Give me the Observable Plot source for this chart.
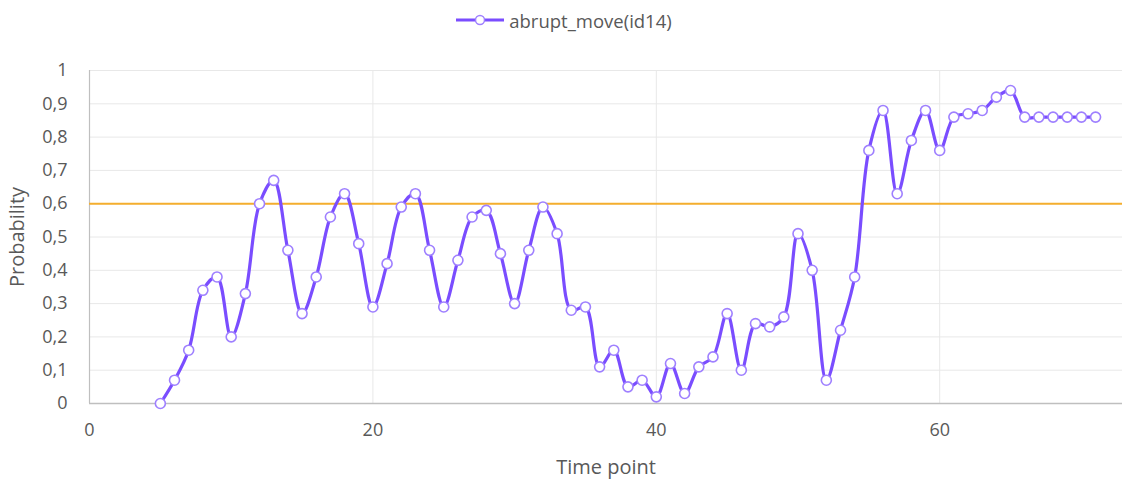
<!DOCTYPE html>
<html>
<head>
<meta charset="utf-8">
<script src="https://cdn.jsdelivr.net/npm/d3@7"></script>
<script src="https://cdn.jsdelivr.net/npm/@observablehq/plot@0.6"></script>
<style>
  body { margin: 0; background: #fff; font-family: "Open Sans", Lato, sans-serif; }
  #legend { height: 40px; display: flex; justify-content: center; align-items: center; color: #595959; font-size: 18.5px; padding-left: 6px; }
  #legend svg { margin-right: 5px; }
</style>
</head>
<body>
<div id="legend"></div>
<div id="chart"></div>
<script>
// Time points and the probability of the abrupt_move(id14) series
const timePoints = [5,6,7,8,9,10,11,12,13,14,15,16,17,18,19,20,21,22,23,24,25,26,27,28,29,30,31,32,33,34,35,36,37,38,39,40,41,42,43,44,45,46,47,48,49,50,51,52,53,54,55,56,57,58,59,60,61,62,63,64,65,66,67,68,69,70,71];
const probability = [0,0.07,0.16,0.34,0.38,0.20,0.33,0.60,0.67,0.46,0.27,0.38,0.56,0.63,0.48,0.29,0.42,0.59,0.63,0.46,0.29,0.43,0.56,0.58,0.45,0.30,0.46,0.59,0.51,0.28,0.29,0.11,0.16,0.05,0.07,0.02,0.12,0.03,0.11,0.14,0.27,0.10,0.24,0.23,0.26,0.51,0.40,0.07,0.22,0.38,0.76,0.88,0.63,0.79,0.88,0.76,0.86,0.87,0.88,0.92,0.94,0.86,0.86,0.86,0.86,0.86,0.86];
const threshold = 0.6;
const seriesName = "abrupt_move(id14)";
const xTicks = [0, 20, 40, 60];
const yTicks = [0,0.1,0.2,0.3,0.4,0.5,0.6,0.7,0.8,0.9,1];

const data = timePoints.map((t, i) => ({t, p: probability[i]}));

const lineColor = "#7A4DFF";
const markerColor = "#9F80FF";

// legend
document.getElementById("legend").innerHTML =
  `<svg width="48" height="14"><line x1="0" x2="48" y1="7" y2="7" stroke="${lineColor}" stroke-width="3"/>` +
  `<circle cx="24" cy="7" r="4.5" fill="#fff" stroke="${markerColor}" stroke-width="1.5"/></svg>${seriesName}`;

const fmt = d => String(d).replace(".", ",");

const chart = Plot.plot({
  width: 1122,
  height: 441,
  marginTop: 30,
  marginBottom: 78,
  marginLeft: 89,
  marginRight: 0,
  style: {fontFamily: "'Open Sans', Lato, sans-serif", fontSize: "18px", color: "#595959"},
  x: {domain: [0, 72.9], ticks: xTicks, tickSize: 0, tickPadding: 20, label: "Time point", labelAnchor: "center", labelArrow: "none", labelOffset: 70},
  y: {domain: [0, 1], ticks: yTicks, tickFormat: fmt, tickSize: 0, tickPadding: 22, label: "Probability", labelAnchor: "center", labelArrow: "none", labelOffset: 80},
  marks: [
    Plot.ruleY(yTicks, {stroke: "#E8E8E8", strokeWidth: 1}),
    Plot.ruleX(xTicks.slice(1), {stroke: "#E8E8E8", strokeWidth: 1}),
    Plot.ruleX([0], {stroke: "#BFBFBF", strokeWidth: 1.2}),
    Plot.ruleY([0], {stroke: "#BFBFBF", strokeWidth: 1.5}),
    Plot.ruleY([threshold], {stroke: "#F4AE2E", strokeWidth: 2}),
    Plot.line(data, {x: "t", y: "p", stroke: lineColor, strokeWidth: 3.2, curve: "catmull-rom"}),
    Plot.dot(data, {x: "t", y: "p", r: 5, fill: "#fff", stroke: markerColor, strokeWidth: 1.6})
  ]
});
chart.querySelectorAll("[aria-label='x-axis label'] text, [aria-label='y-axis label'] text").forEach(t => t.style.fontSize = "20px");
document.getElementById("chart").appendChild(chart);
</script>
</body>
</html>
